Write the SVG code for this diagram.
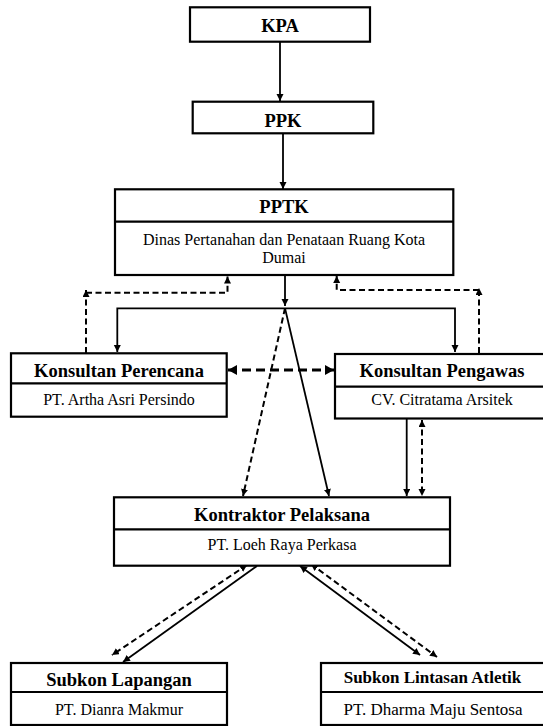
<svg xmlns="http://www.w3.org/2000/svg" width="543" height="726" viewBox="0 0 543 726">
<style>
.box{fill:#fff;stroke:#000;stroke-width:2.2}
.div{stroke:#000;stroke-width:2.2}
text{font-family:'Liberation Serif','DejaVu Serif',serif;fill:#000;text-anchor:middle}
.t{font-weight:bold;font-size:18.5px}
.s{font-size:16px}
.c{fill:none;stroke:#000;stroke-width:1.8}
.d{fill:none;stroke:#000;stroke-width:2;stroke-dasharray:6 3.5}
.dd{fill:none;stroke:#000;stroke-width:3;stroke-dasharray:9 5}
</style>
<defs>
<marker id="ah" markerUnits="userSpaceOnUse" markerWidth="8" markerHeight="8" refX="7" refY="3.5" orient="auto-start-reverse" viewBox="0 0 8 8">
<path d="M0,0 L7,3.5 L0,7 z" fill="#000"/>
</marker>
<marker id="ab" markerUnits="userSpaceOnUse" markerWidth="11" markerHeight="11" refX="9" refY="5" orient="auto-start-reverse" viewBox="0 0 11 11">
<path d="M0,0 L9,5 L0,10 z" fill="#000"/>
</marker>
</defs>

<g id="connectors">
<line class="c" x1="280" y1="42" x2="280" y2="101" marker-end="url(#ah)"/>
<line class="c" x1="283" y1="134" x2="283" y2="189" marker-end="url(#ah)"/>
<line class="c" x1="285" y1="275" x2="285" y2="306" marker-end="url(#ah)"/>
<polyline class="c" points="117.3,352 117.3,308.3 455,308.3 455,352" marker-start="url(#ah)" marker-end="url(#ah)"/>
<line class="d" x1="86" y1="353" x2="86" y2="290" marker-end="url(#ah)"/>
<polyline class="d" points="86,292.7 227.5,292.7 227.5,276.5" marker-end="url(#ah)"/>
<line class="d" x1="479" y1="353" x2="479" y2="288" marker-end="url(#ah)"/>
<polyline class="d" points="479,290 336.7,290 336.7,276" marker-end="url(#ah)"/>
<line class="dd" x1="228" y1="370" x2="334" y2="370" marker-start="url(#ab)" marker-end="url(#ab)"/>
<line class="d" x1="285" y1="308.3" x2="243" y2="496" marker-end="url(#ah)"/>
<line class="c" x1="285" y1="308.3" x2="329" y2="496" marker-end="url(#ah)"/>
<line class="c" x1="406.7" y1="419" x2="406.7" y2="496" marker-end="url(#ah)"/>
<line class="d" x1="422" y1="420" x2="422" y2="496" marker-start="url(#ah)" marker-end="url(#ah)"/>
<line class="c" x1="257" y1="566" x2="123" y2="662" marker-end="url(#ah)"/>
<line class="d" x1="247" y1="565" x2="112" y2="655" marker-start="url(#ah)" marker-end="url(#ah)"/>
<line class="c" x1="300" y1="566" x2="420" y2="655" marker-start="url(#ah)" marker-end="url(#ah)"/>
<line class="d" x1="311" y1="564" x2="437" y2="657" marker-start="url(#ah)" marker-end="url(#ah)"/>
</g>

<g id="kpa">
<rect class="box" x="190" y="7.3" width="180" height="34.4"/>
<text class="t" x="280" y="32.3">KPA</text>
</g>

<g id="ppk">
<rect class="box" x="192.7" y="101.7" width="180.6" height="31.6"/>
<text class="t" x="283" y="126.7">PPK</text>
</g>

<g id="pptk">
<rect class="box" x="115" y="189.3" width="338.3" height="85.7"/>
<line class="div" x1="115" y1="221.7" x2="453.3" y2="221.7"/>
<text class="t" x="284" y="213.3">PPTK</text>
<text class="s" x="284" y="245">Dinas Pertanahan dan Penataan Ruang Kota</text>
<text class="s" x="284" y="263.3">Dumai</text>
</g>

<g id="konsultan-perencana">
<rect class="box" x="11" y="353.3" width="215.7" height="63.4"/>
<line class="div" x1="11" y1="383.3" x2="226.7" y2="383.3"/>
<text class="t" x="119" y="376.7">Konsultan Perencana</text>
<text class="s" x="119" y="405">PT. Artha Asri Persindo</text>
</g>

<g id="konsultan-pengawas">
<rect class="box" x="335" y="354" width="214" height="64.5"/>
<line class="div" x1="335" y1="386.7" x2="549" y2="386.7"/>
<text class="t" x="442" y="376.7">Konsultan Pengawas</text>
<text class="s" x="442" y="405">CV. Citratama Arsitek</text>
</g>

<g id="kontraktor">
<rect class="box" x="114" y="497.3" width="336" height="68.4"/>
<line class="div" x1="114" y1="529.3" x2="450" y2="529.3"/>
<text class="t" x="282" y="520.7">Kontraktor Pelaksana</text>
<text class="s" x="282" y="550">PT. Loeh Raya Perkasa</text>
</g>

<g id="subkon-lapangan">
<rect class="box" x="11" y="663" width="216" height="62"/>
<line class="div" x1="11" y1="692" x2="227" y2="692"/>
<text class="t" x="119" y="685.7">Subkon Lapangan</text>
<text class="s" x="119" y="715">PT. Dianra Makmur</text>
</g>

<g id="subkon-lintasan">
<rect class="box" x="321" y="663" width="224" height="62"/>
<line class="div" x1="321" y1="692" x2="545" y2="692"/>
<text class="t" x="432.5" y="683.3" style="font-size:17px">Subkon Lintasan Atletik</text>
<text class="s" x="433" y="715" style="font-size:17px">PT. Dharma Maju Sentosa</text>
</g>
</svg>
